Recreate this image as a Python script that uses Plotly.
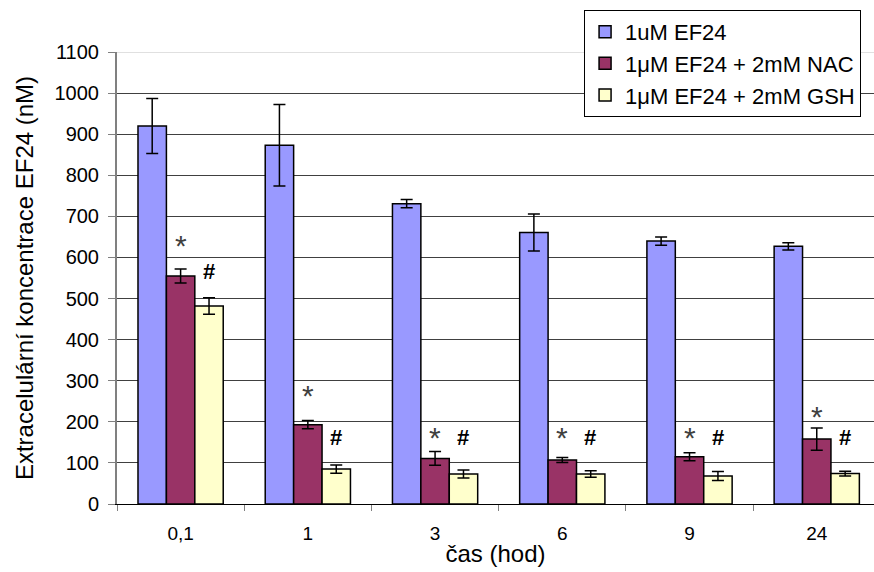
import plotly.graph_objects as go

# Time points (hours) and measured extracellular EF24 concentrations (nM)
categories = ["0,1", "1", "3", "6", "9", "24"]
series_names = ["1uM EF24", "1μM EF24 + 2mM NAC", "1μM EF24 + 2mM GSH"]

ef24 = [920, 873, 731, 661, 640, 627]
ef24_err = [67, 99, 10, 45, 10, 9]

ef24_nac = [555, 193, 111, 107, 115, 158]
ef24_nac_err = [17, 10, 17, 6, 10, 27]

ef24_gsh = [482, 85, 73, 73, 68, 74]
ef24_gsh_err = [20, 10, 10, 8, 11, 6]

# Heights (nM) at which the significance markers are placed
star_y = [628, 263, 163, 163, 163, 214]   # * over the NAC bars
hash_y = [567, 163, 163, 163, 163, 163]   # # over the GSH bars

colors = ["#9999FF", "#993366", "#FFFFCC"]
values = [ef24, ef24_nac, ef24_gsh]
errors = [ef24_err, ef24_nac_err, ef24_gsh_err]

FONT = "Arial, Liberation Sans, sans-serif"

fig = go.Figure()
for i, (name, vals, errs, col) in enumerate(zip(series_names, values, errors, colors)):
    fig.add_trace(go.Bar(
        x=categories, y=vals, name=name,
        marker=dict(color=col, line=dict(color="black", width=1.5)),
        error_y=dict(type="data", array=errs, visible=True,
                     color="black", thickness=1.5, width=6),
        legendgroup=f"g{i}",
    ))

annotations = []
for idx, (sy, hy) in enumerate(zip(star_y, hash_y)):
    annotations.append(dict(x=idx, y=sy, xref="x", yref="y", text="*",
                            showarrow=False, xshift=0,
                            font=dict(family=FONT, size=30, color="#404040")))
    annotations.append(dict(x=idx, y=hy, xref="x", yref="y", text="<b>#</b>",
                            showarrow=False, xshift=28,
                            font=dict(family=FONT, size=22, color="black")))

fig.update_layout(
    width=874, height=572,
    margin=dict(l=117, r=0, t=52, b=68),
    paper_bgcolor="white", plot_bgcolor="white",
    barmode="group", bargap=0.33, bargroupgap=0,
    font=dict(family=FONT, size=19, color="black"),
    annotations=annotations,
    legend=dict(
        x=0.617, y=1.093, xanchor="left", yanchor="top",
        bgcolor="white", bordercolor="black", borderwidth=1,
        font=dict(family=FONT, size=22, color="black"),
        tracegroupgap=0, traceorder="grouped",
    ),
    xaxis=dict(
        range=[-0.5, 5.45],
        title=dict(text="čas (hod)", font=dict(family=FONT, size=24), standoff=2),
        tickson="boundaries", ticks="outside", ticklen=6, tickcolor="#808080",
        showline=True, linecolor="black", linewidth=1,
        tickfont=dict(family=FONT, size=19),
        ticklabelstandoff=12,
    ),
    yaxis=dict(
        range=[0, 1100],
        tickvals=list(range(0, 1101, 100)),
        title=dict(text="Extracelulární koncentrace EF24 (nM)",
                   font=dict(family=FONT, size=24), standoff=14),
        ticks="outside", ticklen=7, tickcolor="#808080",
        showline=True, linecolor="#808080", linewidth=2,
        showgrid=True, gridcolor="#404040", gridwidth=1,
        tickfont=dict(family=FONT, size=20),
        ticklabelstandoff=5,
        zeroline=False,
    ),
    shapes=[dict(type="line", xref="paper", yref="y", x0=0, x1=1, y0=1100, y1=1100,
                 line=dict(color="#E0E0E0", width=2), layer="below")],
)

fig.write_html("out.html")
